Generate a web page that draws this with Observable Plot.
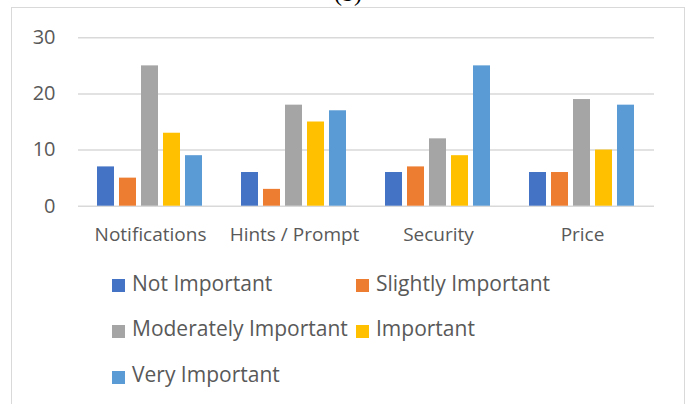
<!DOCTYPE html>
<html>
<head>
<meta charset="utf-8">
<script src="https://cdn.jsdelivr.net/npm/d3@7"></script>
<script src="https://cdn.jsdelivr.net/npm/@observablehq/plot@0.6"></script>
<style>
  html, body { margin: 0; padding: 0; background: #fff; }
  body { width: 688px; height: 404px; overflow: hidden; position: relative; font-family: "Open Sans", sans-serif; color: #595959; }
  #frame { position: absolute; left: 11px; top: 7px; width: 674px; height: 500px; box-sizing: border-box; border: 1.5px solid #d9d9d9; }
  #title { position: absolute; left: 4px; width: 688px; top: -19.4px; text-align: center; font-family: "Liberation Serif", serif; font-size: 24px; line-height: 1; color: #000; }
  #chart { position: absolute; left: 0; top: 0; }
  #chart svg [aria-label^="fx-axis"] text { font-size: 19px !important; fill: #595959; }
  #chart svg [aria-label^="y-axis"] text { font-size: 20px !important; fill: #595959; }
  #legend { position: absolute; left: 0; top: 0; }
  .item { position: absolute; height: 45.7px; display: flex; align-items: flex-start; white-space: nowrap; }
  .sw { width: 13px; height: 13px; margin-top: 18.6px; margin-right: 7px; flex: none; }
  .lbl { font-size: 21px; line-height: 45.7px; color: #595959; }
</style>
</head>
<body>
<div id="frame"></div>
<div id="title">(b)</div>
<div id="chart"></div>
<div id="legend"></div>
<script>
const categories = ["Notifications", "Hints / Prompt", "Security", "Price"];
const series = ["Not Important", "Slightly Important", "Moderately Important", "Important", "Very Important"];
const colors = ["#4472C4", "#ED7D31", "#A5A5A5", "#FFC000", "#5B9BD5"];
const notImportant = [7, 6, 6, 6];
const slightlyImportant = [5, 3, 7, 6];
const moderatelyImportant = [25, 18, 12, 19];
const important = [13, 15, 9, 10];
const veryImportant = [9, 17, 25, 18];
const yTicks = [0, 10, 20, 30];

const seriesValues = [notImportant, slightlyImportant, moderatelyImportant, important, veryImportant];
const data = [];
categories.forEach((c, i) => {
  series.forEach((s, j) => data.push({category: c, series: s, value: seriesValues[j][i]}));
});

const chart = Plot.plot({
  width: 688,
  height: 250,
  marginLeft: 76,
  marginRight: 32.6,
  marginTop: 37.3,
  marginBottom: 44.3,
  style: {fontFamily: "Open Sans", color: "#595959", background: "transparent", overflow: "visible"},
  fx: {domain: categories, padding: 0, axis: "bottom", label: null, tickSize: 0, tickPadding: 21},
  x: {domain: series, paddingInner: 0.224, paddingOuter: 0.86, axis: null},
  y: {domain: [0, 30], ticks: yTicks, tickSize: 0, tickPadding: 23, label: null},
  color: {domain: series, range: colors},
  marks: [
    Plot.ruleY(yTicks, {stroke: "#d9d9d9", strokeWidth: 1.4}),
    Plot.barY(data, {fx: "category", x: "series", y: "value", fill: "series"})
  ]
});
document.getElementById("chart").appendChild(chart);

// Legend
const legend = document.getElementById("legend");
const colLeft = [112, 356];
const rowTop = [260.7, 306.4, 352.1];
series.forEach((s, i) => {
  const item = document.createElement("div");
  item.className = "item";
  item.style.left = colLeft[i % 2] + "px";
  item.style.top = rowTop[Math.floor(i / 2)] + "px";
  const sw = document.createElement("span");
  sw.className = "sw";
  sw.style.background = colors[i];
  const lbl = document.createElement("span");
  lbl.className = "lbl";
  lbl.textContent = s;
  item.appendChild(sw);
  item.appendChild(lbl);
  legend.appendChild(item);
});
</script>
</body>
</html>
